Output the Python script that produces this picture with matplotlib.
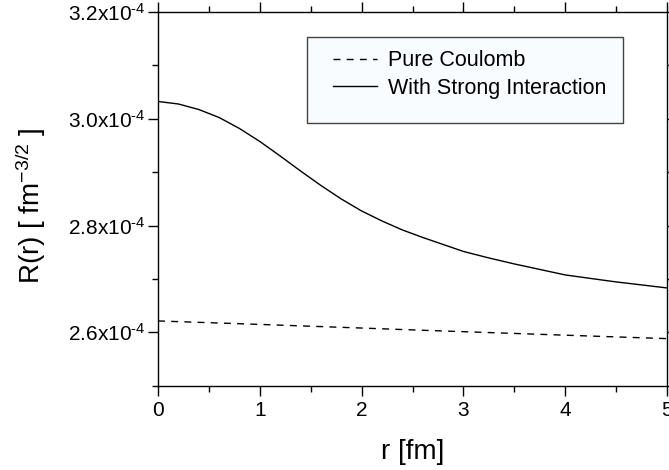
import matplotlib
matplotlib.use("Agg")
import matplotlib.pyplot as plt
from matplotlib.ticker import MultipleLocator, FuncFormatter
from matplotlib.patches import Rectangle

plt.rcParams['font.family'] = ['Liberation Sans', 'DejaVu Sans']
plt.rcParams['mathtext.fontset'] = 'custom'
plt.rcParams['mathtext.rm'] = 'Liberation Sans'
plt.rcParams['mathtext.default'] = 'regular'

# Data (R in units of 1e-4 fm^-3/2)
r_strong = [0.0, 0.2, 0.4, 0.6, 0.8, 1.0, 1.2, 1.4, 1.6, 1.8, 2.0, 2.2, 2.4,
            2.6, 2.8, 3.0, 3.25, 3.5, 3.75, 4.0, 4.25, 4.5, 4.75, 5.0]
R_strong = [3.0324, 3.0277, 3.0174, 3.0024, 2.9818, 2.9575, 2.9303, 2.9022,
            2.8751, 2.8498, 2.8273, 2.8086, 2.7918, 2.7777, 2.7646, 2.7515,
            2.7393, 2.7281, 2.7178, 2.7075, 2.7009, 2.6944, 2.6888, 2.6831]
r_coul = [0.0, 1.0, 2.0, 2.5, 3.0, 4.0, 5.0]
R_coul = [2.6213, 2.6148, 2.6080, 2.6045, 2.6012, 2.5946, 2.5882]
labels = ["Pure Coulomb", "With Strong Interaction"]
scale = 1e-4

fig = plt.figure(figsize=(6.69, 4.70), dpi=100)
ax = fig.add_axes([158/669, 1 - 385.7/470, (667 - 158)/669, (385.7 - 12)/470])

l1, = ax.plot(r_coul, [v * scale for v in R_coul], color='black', lw=1.0,
              linestyle=(0, (5, 4.5)), label=labels[0])
l2, = ax.plot(r_strong, [v * scale for v in R_strong], color='black', lw=1.0,
              label=labels[1])

ax.set_xlim(0, 5)
ax.set_ylim(2.5e-4, 3.2e-4)
ax.xaxis.set_major_locator(MultipleLocator(1))
ax.xaxis.set_minor_locator(MultipleLocator(0.5))
ax.yaxis.set_major_locator(MultipleLocator(0.2e-4))
ax.yaxis.set_minor_locator(MultipleLocator(0.1e-4))
ax.yaxis.set_major_formatter(
    FuncFormatter(lambda v, p: f"{v/scale:.1f}x10$^{{\\text{{-4}}}}$"))
ax.xaxis.set_major_formatter(FuncFormatter(lambda v, p: f"{v:g}"))

ax.tick_params(which='both', direction='out', top=True, right=True,
               labelsize=15, width=1.0, colors='black')
ax.tick_params(which='major', length=7, pad=4)
ax.tick_params(axis='y', which='major', pad=2)
ax.tick_params(which='minor', length=4)
for s in ax.spines.values():
    s.set_linewidth(1.0)

ax.set_xlabel("r [fm]", fontsize=20, labelpad=14)
ax.set_ylabel("R(r) [ fm$^{-3/2}$ ]", fontsize=20)
ax.yaxis.set_label_coords((48 - 158) / 509, (385.7 - 206) / 373.7)

# legend box
x0 = (307 - 158) / 509
x1 = (623 - 158) / 509
y1 = (385.7 - 37) / 373.7
y0 = (385.7 - 123) / 373.7
ax.add_patch(Rectangle((x0, y0), x1 - x0, y1 - y0, transform=ax.transAxes,
                       facecolor='#f8fcff', edgecolor='#444444', lw=1.0, zorder=3))
leg = ax.legend(handles=[l1, l2], loc='upper left',
                bbox_to_anchor=(0.335, 0.909), frameon=False, borderaxespad=0,
                fontsize=15.5, handlelength=2.05, handletextpad=0.5,
                labelspacing=0.3, borderpad=0.2)
leg.set_zorder(4)

fig.savefig("out.png", dpi=100)
